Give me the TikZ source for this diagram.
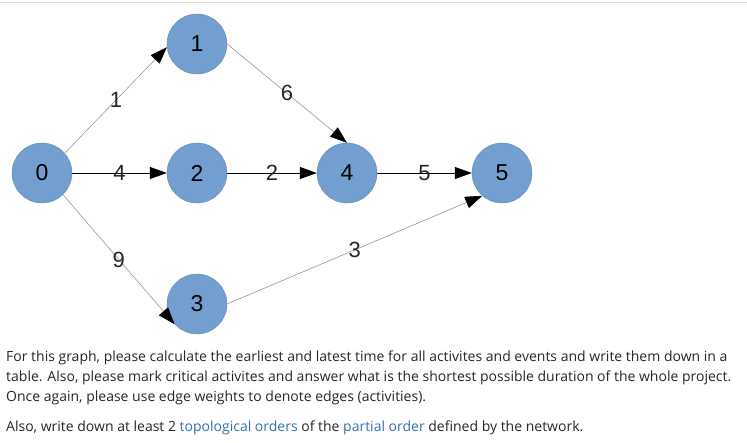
\documentclass[tikz,border=0pt]{standalone}
\usepackage{fontspec}
\setmainfont{Open Sans}
\newfontfamily\nodefont{Liberation Sans}
\newfontfamily\bodyfont{Open Sans}
\usetikzlibrary{arrows.meta}
\definecolor{nodeblue}{RGB}{114,159,207}
\definecolor{nodeedge}{RGB}{98,140,190}
\definecolor{edgegray}{RGB}{150,150,150}
\definecolor{bodytext}{RGB}{36,39,41}
\definecolor{linkblue}{RGB}{53,114,176}
\definecolor{rulegray}{RGB}{221,221,221}
\begin{document}
\begin{tikzpicture}[x=1pt,y=-1pt,
  event/.style={circle, fill=nodeblue, draw=nodeedge, line width=0.4pt, minimum size=60pt, inner sep=0pt, font=\nodefont\fontsize{23}{23}\selectfont},
  heavy/.style={draw=black, line width=0.8pt, -{Triangle[length=17pt,width=12pt]}},
  light/.style={draw=edgegray, line width=0.6pt, -{Triangle[length=17pt,width=12pt,color=black]}},
  wlabel/.style={font=\nodefont\fontsize{22}{22}\selectfont, text=black!85, inner sep=0pt},
  para/.style={anchor=base west, inner sep=0pt, text=bodytext, font=\bodyfont\fontsize{14}{20}\selectfont}
]
\useasboundingbox (0,0) rectangle (747,442);
\draw[rulegray, line width=1pt] (0,2.5) -- (747,2.5);

\node[event] (n0) at (42,173) {0};
\node[event] (n1) at (197,44) {1};
\node[event] (n2) at (197,173) {2};
\node[event] (n3) at (197,304) {3};
\node[event] (n4) at (347,173) {4};
\node[event] (n5) at (502,173) {5};

\draw[light] (n0.41) -- node[wlabel]{1} (n1.186);
\draw[heavy] (n0) -- node[wlabel]{4} (n2);
\draw[light] (n0.-46) -- node[wlabel]{9} (n3.222);
\draw[light] (n1.east) -- node[wlabel]{6} (n4.north);
\draw[heavy] (n2) -- node[wlabel]{2} (n4);
\draw[heavy] (n4) -- node[wlabel]{5} (n5);
\draw[light] (n3.east) -- node[wlabel]{3} (n5.229);

\node[para] (t1) at (6,361.5) {For this graph, please calculate the earliest and latest time for all activites and events and write them down in a};
\node[para] (t2) at (6,381.5) {table. Also, please mark critical activites and answer what is the shortest possible duration of the whole project.};
\node[para] (t3) at (6,401.5) {Once again, please use edge weights to denote edges (activities).};
\node[para] (t4) at (6,431.5) {Also, write down at least 2 \textcolor{linkblue}{topological orders} of the \textcolor{linkblue}{partial order} defined by the network.};
\end{tikzpicture}
\end{document}
